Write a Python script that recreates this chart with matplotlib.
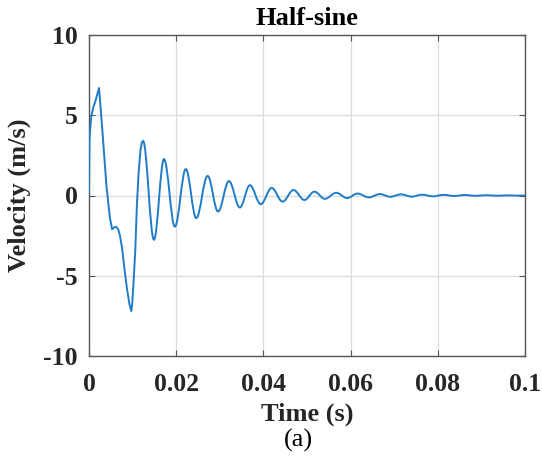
import matplotlib
matplotlib.use("Agg")
import matplotlib.pyplot as plt
from matplotlib.path import Path
from matplotlib.patches import PathPatch

# Initial transient response (s, m/s)
t_start = [0.0, 0.0001, 0.0005, 0.0010, 0.0016, 0.0023,
           0.0030, 0.0040, 0.0048, 0.0053, 0.0058, 0.0062,
           0.0067, 0.0071, 0.0076, 0.0081, 0.0087, 0.0093,
           0.0097, 0.0099, 0.0102, 0.0106, 0.0110, 0.0114,
           0.0118, 0.0121]
v_start = [0.1, 3.5, 4.9, 5.5, 6.0, 6.7,
           4.3, 0.6, -1.4, -2.1, -1.98, -1.95,
           -2.1, -2.5, -3.3, -4.5, -5.8, -6.8,
           -7.2, -6.8, -5.5, -3.5, -0.5, 1.5,
           2.8, 3.3]

# Successive peaks and troughs of the decaying ringing (s, m/s)
t_peaks = [0.0124, 0.0149, 0.0172, 0.0197, 0.0222, 0.0246, 0.0272,
           0.0296, 0.0321, 0.0346, 0.0369, 0.0394, 0.0419, 0.0444,
           0.0469, 0.0494, 0.0517, 0.0541, 0.0567, 0.0592, 0.0616,
           0.0642, 0.0667, 0.0691, 0.0716, 0.0740, 0.0764, 0.0789,
           0.0813, 0.0838, 0.0862, 0.0887, 0.0911, 0.0936, 0.0960,
           0.0985, 0.1000]
v_peaks = [3.4, -2.76, 2.27, -1.94, 1.65, -1.41, 1.22,
           -1.0, 0.9, -0.75, 0.64, -0.54, 0.47, -0.38,
           0.34, -0.28, 0.24, -0.21, 0.17, -0.16, 0.12,
           -0.12, 0.09, -0.08, 0.07, -0.07, 0.05, -0.05,
           0.04, -0.03, 0.03, -0.02, 0.02, -0.015, 0.01,
           -0.01, 0.0]

x_ticks = [0, 0.02, 0.04, 0.06, 0.08, 0.1]
x_tick_labels = ["0", "0.02", "0.04", "0.06", "0.08", "0.1"]
y_ticks = [-10, -5, 0, 5, 10]
y_tick_labels = ["-10", "-5", "0", "5", "10"]

line_color = "#1f7cc8"
serif = ["Liberation Serif", "DejaVu Serif"]

plt.rcParams["font.family"] = serif
plt.rcParams["font.weight"] = "bold"

fig = plt.figure(figsize=(5.42, 4.62), dpi=100)
ax = fig.add_axes([89 / 542, 1 - 356 / 462, 436 / 542, 321 / 462])

# Build one continuous path: straight segments for the transient,
# smooth half-wave cubic segments between successive extrema.
k = 0.3634
verts = [(t_start[0], v_start[0])]
codes = [Path.MOVETO]
for t, v in zip(t_start[1:], v_start[1:]):
    verts.append((t, v))
    codes.append(Path.LINETO)
verts.append((t_peaks[0], v_peaks[0]))
codes.append(Path.LINETO)
for i in range(len(t_peaks) - 1):
    t0, v0 = t_peaks[i], v_peaks[i]
    t1, v1 = t_peaks[i + 1], v_peaks[i + 1]
    dt = t1 - t0
    verts += [(t0 + k * dt, v0), (t1 - k * dt, v1), (t1, v1)]
    codes += [Path.CURVE4] * 3

ax.add_patch(PathPatch(Path(verts, codes), facecolor="none",
                       edgecolor=line_color, lw=1.4, joinstyle="round",
                       capstyle="round", zorder=3))

ax.set_xlim(0, 0.1)
ax.set_ylim(-10, 10)
ax.set_xticks(x_ticks)
ax.set_xticklabels(x_tick_labels)
ax.set_yticks(y_ticks)
ax.set_yticklabels(y_tick_labels)

ax.grid(True, color="#dcdcdc", lw=0.9)
ax.set_axisbelow(True)
for s in ax.spines.values():
    s.set_color("#555555")
    s.set_linewidth(1.0)
ax.tick_params(direction="in", length=4, width=0.8, color="#555555",
               top=True, right=True, labelsize=18.5,
               labelcolor="#262626")
ax.tick_params(axis="y", pad=8)
ax.tick_params(axis="x", pad=12)
for lbl in ax.get_xticklabels() + ax.get_yticklabels():
    lbl.set_fontweight("bold")

ax.set_xlabel("Time (s)", fontsize=19, fontweight="bold",
              color="#262626", labelpad=5)
ax.set_ylabel("Velocity (m/s)", fontsize=19, fontweight="bold",
              color="#262626", labelpad=9)
ax.set_title("Half-sine", fontsize=19, fontweight="bold", pad=7)

fig.text(298 / 542, 1 - 440 / 462, "(a)", fontsize=19,
         fontweight="normal", ha="center", va="center", color="black")

fig.savefig("out.png", dpi=100)
